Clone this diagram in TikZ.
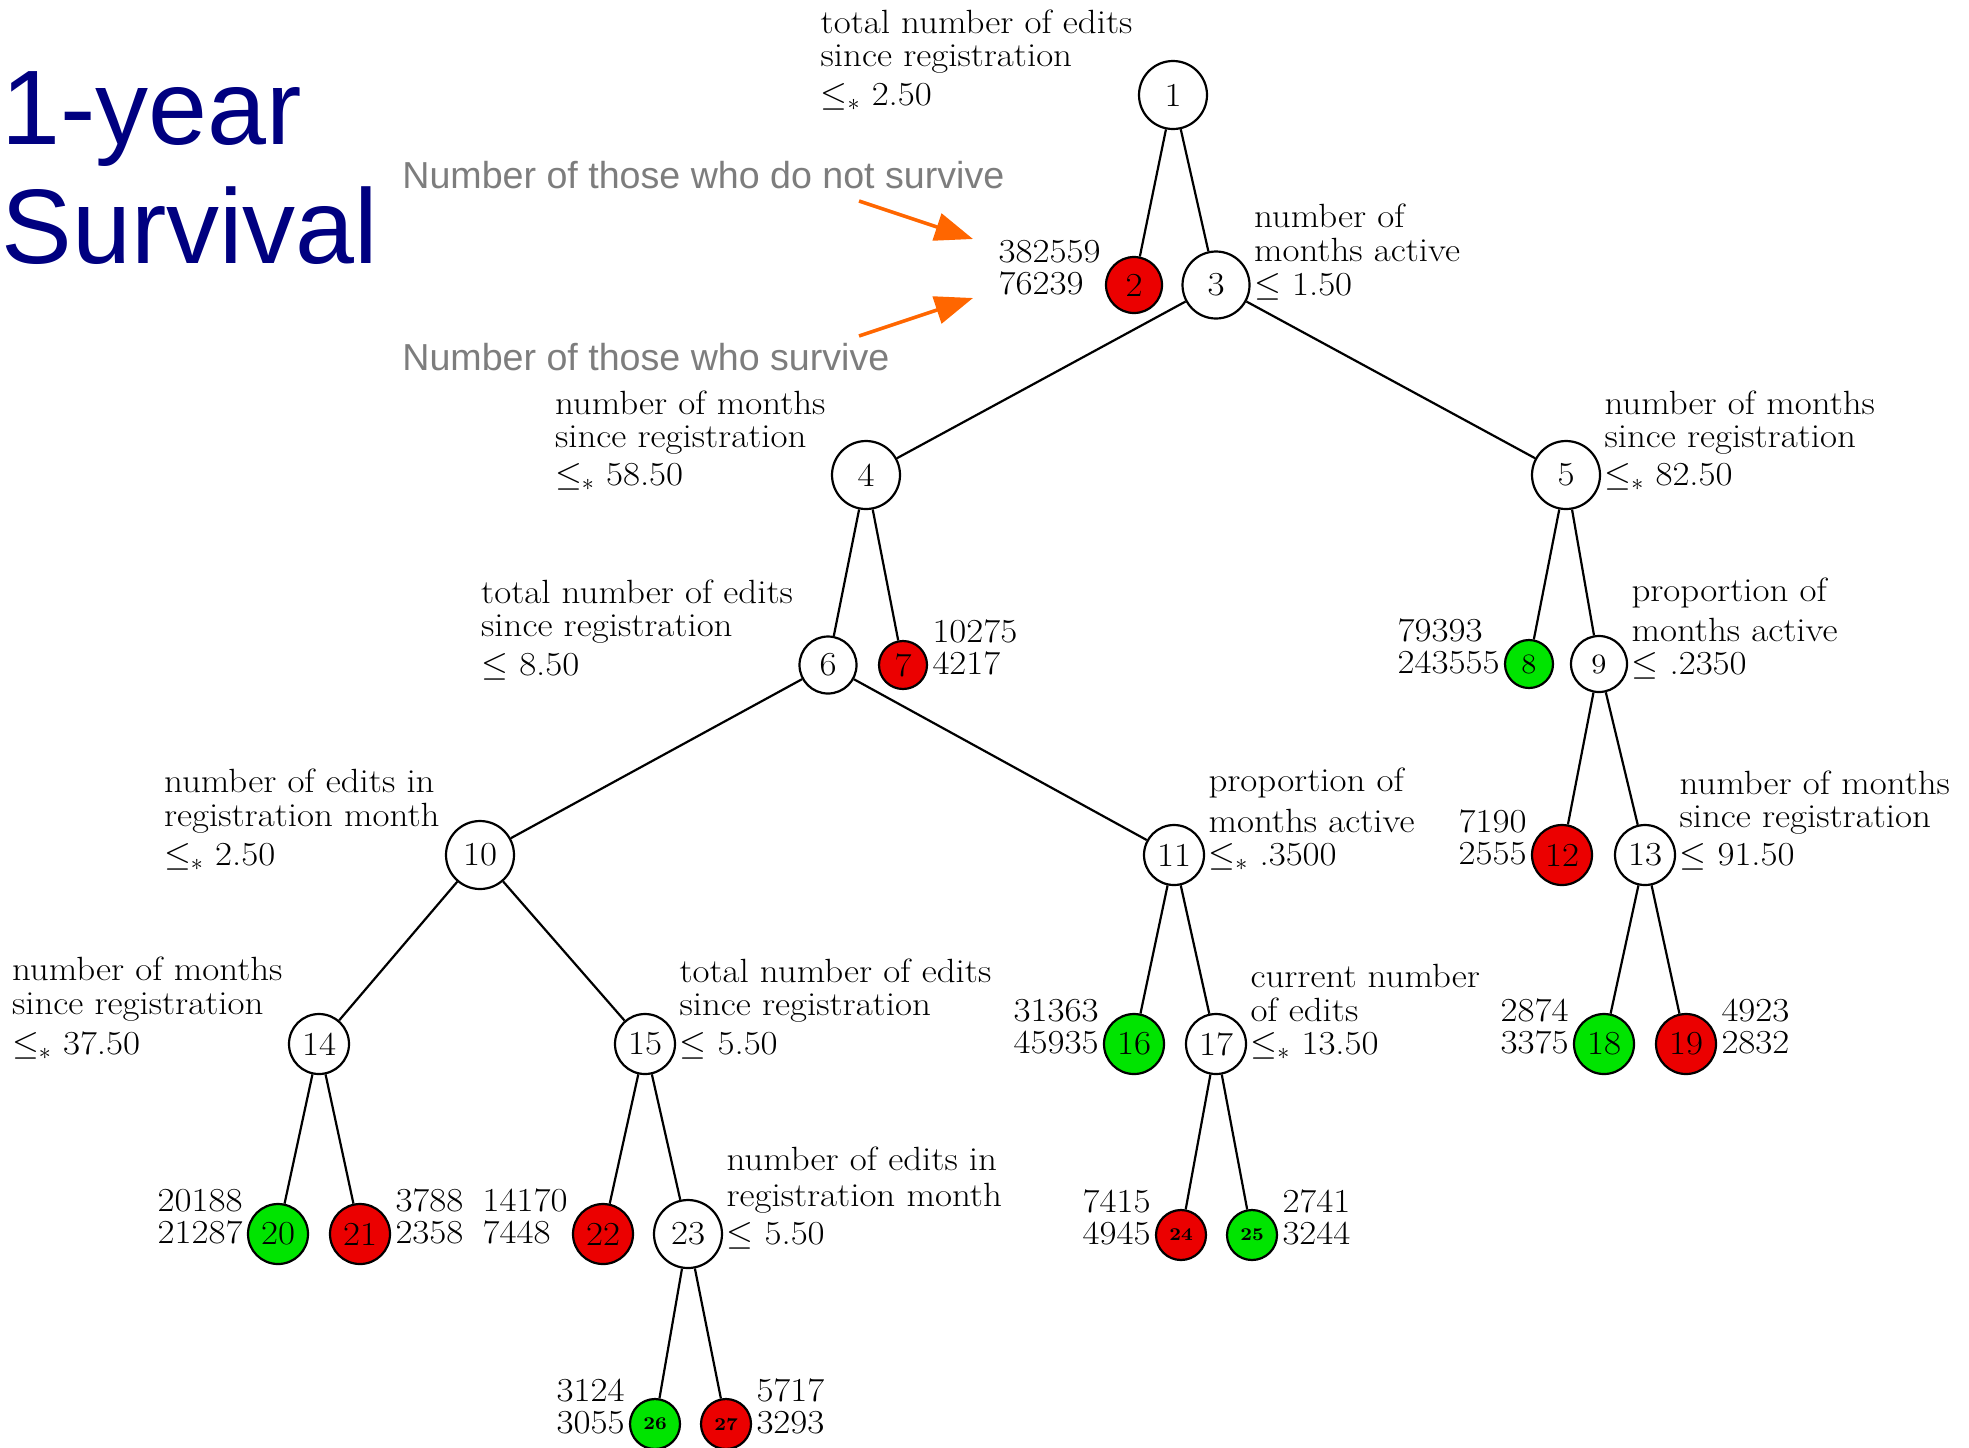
\documentclass[tikz,border=0pt]{standalone}
\usepackage{fontspec}
\setmainfont{Latin Modern Roman}[FakeStretch=1.1]
\newfontfamily\sansfontA{Liberation Sans}
\usetikzlibrary{arrows.meta}
\definecolor{leafred}{RGB}{235,0,0}
\definecolor{leafgreen}{RGB}{0,228,0}
\definecolor{annogray}{RGB}{125,125,125}
\definecolor{titlenavy}{RGB}{0,0,128}
\definecolor{arroworange}{RGB}{255,102,0}
\newcommand{\splitlab}[5]{\begin{tabular}[b]{@{}l@{}}#1\\[#4]#2\\[#5]#3\end{tabular}}
\newcommand{\counts}[2]{\begin{tabular}[b]{@{}l@{}}#1\\[-0.5pt]#2\end{tabular}}
\newcommand{\basefont}{\fontsize{16.8}{16.5}\selectfont}
\tikzset{
  treenode/.style={circle, draw=black, line width=1.1pt, inner sep=0pt, font=\basefont},
  innernode/.style={treenode, fill=white},
  redleaf/.style={treenode, fill=leafred},
  greenleaf/.style={treenode, fill=leafgreen},
  rad/.style={minimum size=#1pt},
  midfont/.style={font=\fontsize{14}{14}\selectfont},
  tinyfont/.style={font=\fontsize{9}{9}\selectfont\bfseries},
  labtext/.style={inner sep=0pt, font=\basefont},
  edge/.style={line width=1.1pt},
  annot/.style={inner sep=0pt, font=\sansfontA\fontsize{18.8}{22}\selectfont, text=annogray},
  pointer/.style={draw=arroworange, line width=1.8pt, -{Triangle[length=19pt,width=14pt]}},
  leftlab/.style={labtext, anchor=base east, xshift=-2.5pt, yshift=-5pt},
  rightlab/.style={labtext, anchor=base west, xshift=1.5pt, yshift=-5pt},
  leftcnt/.style={labtext, anchor=base east, xshift=-2pt, yshift=-4.5pt},
  rightcnt/.style={labtext, anchor=base west, xshift=2pt, yshift=-4.5pt},
}
\begin{document}
\begin{tikzpicture}[x=0.5pt, y=-0.5pt]
\useasboundingbox (0,0) rectangle (1969,1447);

% title
\node[inner sep=0pt, anchor=base west, font=\sansfontA\fontsize{53}{59.5}\selectfont, text=titlenavy] (title) at (1,144) {\begin{tabular}[t]{@{}l@{}}1-year\\Survival\end{tabular}};

% tree nodes
\node[innernode, rad=34] (n1) at (1173,95) {1};
\node[redleaf, rad=28] (n2) at (1134,285) {2};
\node[innernode, rad=33.5] (n3) at (1216,285) {3};
\node[innernode, rad=34] (n4) at (866,475) {4};
\node[innernode, rad=34] (n5) at (1566,475) {5};
\node[innernode, rad=28.5] (n6) at (828,665) {6};
\node[redleaf, rad=24] (n7) at (903,665) {7};
\node[greenleaf, rad=24, midfont] (n8) at (1529,664) {8};
\node[innernode, rad=28, midfont] (n9) at (1599,664) {9};
\node[innernode, rad=34] (n10) at (480,855) {10};
\node[innernode, rad=30] (n11) at (1174,855) {11};
\node[redleaf, rad=30] (n12) at (1562,855) {12};
\node[innernode, rad=30] (n13) at (1645,855) {13};
\node[innernode, rad=30] (n14) at (319,1044) {14};
\node[innernode, rad=30] (n15) at (645,1044) {15};
\node[greenleaf, rad=30] (n16) at (1134,1044) {16};
\node[innernode, rad=30] (n17) at (1216,1044) {17};
\node[greenleaf, rad=30] (n18) at (1604,1044) {18};
\node[redleaf, rad=30] (n19) at (1686,1044) {19};
\node[greenleaf, rad=30] (n20) at (278,1234) {20};
\node[redleaf, rad=30] (n21) at (360,1234) {21};
\node[redleaf, rad=30] (n22) at (603,1234) {22};
\node[innernode, rad=34] (n23) at (688,1234) {23};
\node[redleaf, rad=25, tinyfont] (n24) at (1181,1235) {24};
\node[greenleaf, rad=25, tinyfont] (n25) at (1252,1235) {25};
\node[greenleaf, rad=25, tinyfont] (n26) at (655,1424) {26};
\node[redleaf, rad=25, tinyfont] (n27) at (726,1424) {27};

% edges
\foreach \p/\c in {n1/n2,n1/n3,n3/n4,n3/n5,n4/n6,n4/n7,n5/n8,n5/n9,n6/n10,n6/n11,
  n9/n12,n9/n13,n10/n14,n10/n15,n11/n16,n11/n17,n13/n18,n13/n19,n14/n20,n14/n21,
  n15/n22,n15/n23,n17/n24,n17/n25,n23/n26,n23/n27}
  \draw[edge] (\p) -- (\c);

% split labels
\node[leftlab] (l1) at (n1.west) {\splitlab{total number of edits}{since registration}{$\leq_*$ 2.50}{0pt}{3pt}};
\node[rightlab] (l3) at (n3.east) {\splitlab{number of}{months active}{$\leq$ 1.50}{0pt}{0.5pt}};
\node[leftlab] (l4) at (n4.west) {\splitlab{number of months}{since registration}{$\leq_*$ 58.50}{0pt}{2.5pt}};
\node[rightlab] (l5) at (n5.east) {\splitlab{number of months}{since registration}{$\leq_*$ 82.50}{0pt}{2.5pt}};
\node[leftlab] (l6) at (n6.west) {\splitlab{total number of edits}{since registration}{$\leq$ 8.50}{0pt}{3pt}};
\node[rightlab] (l9) at (n9.east) {\splitlab{proportion of}{months active}{$\leq$ .2350}{3pt}{0pt}};
\node[leftlab] (l10) at (n10.west) {\splitlab{number of edits in}{registration month}{$\leq_*$ 2.50}{0pt}{3pt}};
\node[rightlab] (l11) at (n11.east) {\splitlab{proportion of}{months active}{$\leq_*$ .3500}{3.5pt}{0pt}};
\node[rightlab] (l13) at (n13.east) {\splitlab{number of months}{since registration}{$\leq$ 91.50}{0pt}{2.5pt}};
\node[leftlab] (l14) at (n14.west) {\splitlab{number of months}{since registration}{$\leq_*$ 37.50}{0.5pt}{3.5pt}};
\node[rightlab] (l15) at (n15.east) {\splitlab{total number of edits}{since registration}{$\leq$ 5.50}{0pt}{3pt}};
\node[rightlab] (l17) at (n17.east) {\splitlab{current number}{of edits}{$\leq_*$ 13.50}{0pt}{0pt}};
\node[rightlab] (l23) at (n23.east) {\splitlab{number of edits in}{registration month}{$\leq$ 5.50}{1pt}{2.5pt}};

% counts
\node[leftcnt] (c2) at (n2.west) {\counts{382559}{76239}};
\node[rightcnt] (c7) at (n7.east) {\counts{10275}{4217}};
\node[leftcnt] (c8) at (n8.west) {\counts{79393}{243555}};
\node[leftcnt] (c12) at (n12.west) {\counts{7190}{2555}};
\node[leftcnt] (c16) at (n16.west) {\counts{31363}{45935}};
\node[leftcnt] (c18) at (n18.west) {\counts{2874}{3375}};
\node[rightcnt] (c19) at (n19.east) {\counts{4923}{2832}};
\node[leftcnt] (c20) at (n20.west) {\counts{20188}{21287}};
\node[rightcnt] (c21) at (n21.east) {\counts{3788}{2358}};
\node[leftcnt] (c22) at (n22.west) {\counts{14170}{7448}};
\node[leftcnt] (c24) at (n24.west) {\counts{7415}{4945}};
\node[rightcnt] (c25) at (n25.east) {\counts{2741}{3244}};
\node[leftcnt] (c26) at (n26.west) {\counts{3124}{3055}};
\node[rightcnt] (c27) at (n27.east) {\counts{5717}{3293}};

% annotations
\node[annot, anchor=base west] (a1) at (402,188) {Number of those who do not survive};
\node[annot, anchor=base west] (a2) at (402,370) {Number of those who survive};
\coordinate (t1) at (859,201);
\coordinate (h1) at (973,239);
\coordinate (t2) at (859,336);
\coordinate (h2) at (973,298);
\draw[pointer] (t1) -- (h1);
\draw[pointer] (t2) -- (h2);
\end{tikzpicture}
\end{document}
